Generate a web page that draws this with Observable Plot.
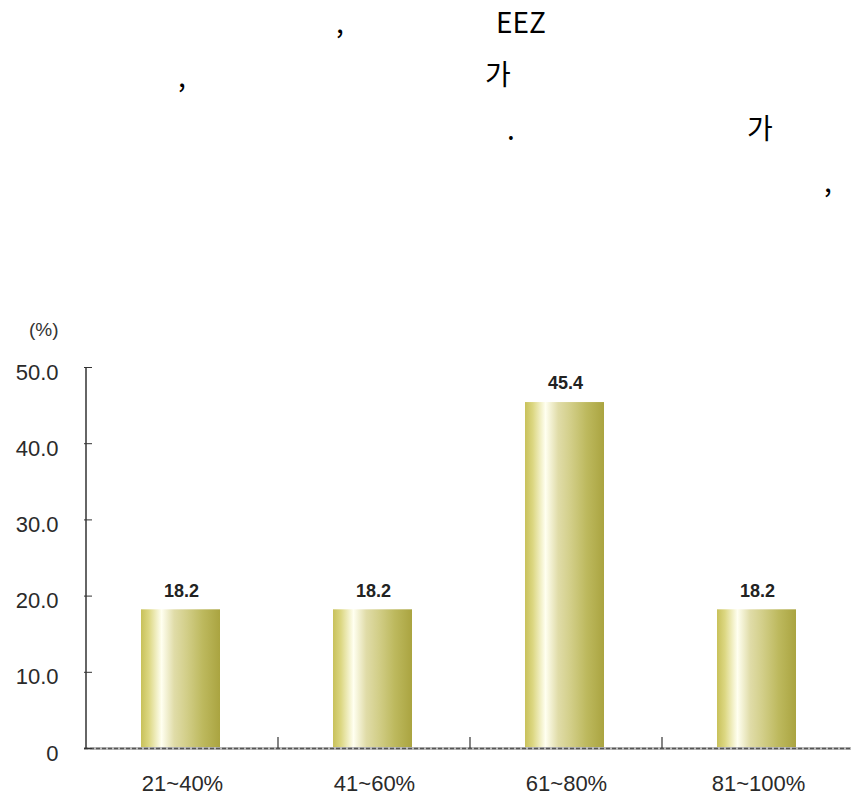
<!DOCTYPE html>
<html><head><meta charset="utf-8">
<script src="https://cdn.jsdelivr.net/npm/d3@7"></script>
<script src="https://cdn.jsdelivr.net/npm/@observablehq/plot@0.6"></script>
<style>body{margin:0;background:#fff} svg{display:block}</style>
</head><body>
<svg id="top" width="851" height="300" style="font-family:'Noto Sans CJK KR',sans-serif;font-size:28px;fill:#000">
  <text x="340" y="33" text-anchor="middle">,</text>
  <text x="521" y="33" text-anchor="middle">EEZ</text>
  <text x="182" y="87" text-anchor="middle">,</text>
  <text x="498" y="85" text-anchor="middle">가</text>
  <text x="511" y="140" text-anchor="middle">.</text>
  <text x="760" y="139" text-anchor="middle">가</text>
  <text x="828" y="192" text-anchor="middle">,</text>
</svg>
<div id="chart"></div>
<script>
const categories = ["21~40%", "41~60%", "61~80%", "81~100%"];
const values = [18.2, 18.2, 45.4, 18.2];
const yTicks = [0, 10, 20, 30, 40, 50];
const yTickLabels = ["0", "10.0", "20.0", "30.0", "40.0", "50.0"];
const unitLabel = "(%)";

const data = categories.map((c, i) => ({category: c, value: values[i]}));

const chart = Plot.plot({
  width: 851, height: 504,
  marginTop: 67, marginBottom: 56, marginLeft: 84, marginRight: 0,
  style: {fontFamily: "'Liberation Sans', Arial, sans-serif", background: "#fff"},
  x: {domain: categories, range: [84, 855], padding: 0},
  y: {domain: [0, 50]},
  marks: [
    Plot.barY(data, {x: "category", y: "value", fill: "url(#barGrad)", insetLeft: 55, insetRight: 58}),
    Plot.ruleY([0], {stroke: "#bbb", strokeWidth: 3}),
    Plot.ruleY([0], {stroke: "#555", strokeWidth: 1.5, strokeDasharray: "4,2"}),
    Plot.axisY({ticks: yTicks, tickSize: 0, tickPadding: 26, dy: 5,
      tickFormat: d => yTickLabels[yTicks.indexOf(d)], fontSize: 22, fill: "#2a2a2a", label: null}),
    Plot.axisY({ticks: yTicks, tickSize: 8, dx: 8, tickFormat: () => "", label: null, stroke: "#333"}),
    Plot.axisX({tickSize: 0, tickPadding: 27, fontSize: 22, fill: "#2a2a2a", label: null}),
    Plot.text(data, {x: "category", y: "value", text: d => d.value.toFixed(1), dy: -19, dx: -1,
      fontSize: 18, fontWeight: "bold", fill: "#222"}),
    Plot.text([unitLabel], {frameAnchor: "top-left", dx: -26, dy: -45, textAnchor: "end", fontSize: 19, fill: "#333"})
  ]
});

const svg = d3.select(chart);
const defs = svg.insert("defs", ":first-child");
const grad = defs.append("linearGradient").attr("id", "barGrad").attr("x1", "0").attr("x2", "1").attr("y1", "0").attr("y2", "0");
[["0%", "#c8c15a"], ["10%", "#dcd782"], ["26%", "#fffff0"], ["42%", "#e0dca8"], ["58%", "#d2ce88"], ["78%", "#bdb95e"], ["100%", "#aaa440"]]
  .forEach(([o, c]) => grad.append("stop").attr("offset", o).attr("stop-color", c));
svg.selectAll("g[aria-label='bar'] rect").attr("fill", "url(#barGrad)");

// axis line and category boundary ticks, positioned through Plot's scales
const xs = chart.scale("x"), ys = chart.scale("y");
const y0 = ys.apply(0), y50 = ys.apply(50);
const gl = svg.append("g").attr("stroke", "#333");
gl.append("line").attr("x1", xs.apply(categories[0])).attr("x2", xs.apply(categories[0]))
  .attr("y1", y50).attr("y2", y0).attr("stroke-width", 1.5);
categories.slice(1).forEach(c => {
  const x = xs.apply(c);
  gl.append("line").attr("x1", x).attr("x2", x).attr("y1", y0).attr("y2", y0 - 11).attr("stroke-width", 1.2);
});
document.getElementById("chart").appendChild(chart);
</script>
</body></html>
